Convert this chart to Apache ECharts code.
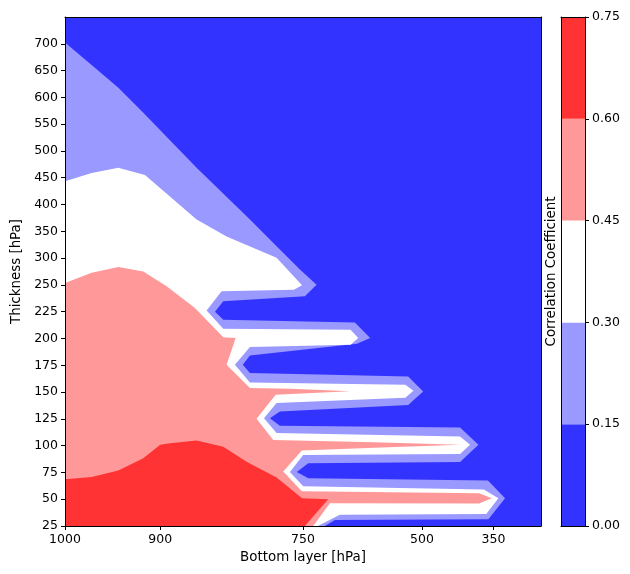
<!DOCTYPE html>
<html>
<head>
<meta charset="utf-8">
<script src="https://cdn.jsdelivr.net/npm/echarts@6/dist/echarts.min.js"></script>
<style>html,body{margin:0;padding:0;background:#fff}#c{width:630px;height:574px}</style>
</head>
<body>
<div id="c"></div>
<script>
// Bottom-layer pressure levels (x index 0..20) and tick indices
const bottomLevels = [1000,975,950,925,900,875,850,825,800,775,750,700,650,600,550,500,450,400,350,300,250];
const xTickIdx = [0,4,10,15,18];
// Thickness levels (y index 0..19) and tick indices
const thicknessLevels = [25,50,75,100,125,150,175,200,225,250,300,350,400,450,500,550,600,650,700,750];
const yTickIdx = [0,1,2,3,4,5,6,7,8,9,10,11,12,13,14,15,16,17,18];
// Colour-bar levels
const cbLevels = [0, 0.15, 0.30, 0.45, 0.60, 0.75];
const cbColors = ['#3333ff','#9999ff','#ffffff','#ff9999','#ff3333'];

// Filled-contour regions (value >= level), vertices in [bottom-level index, thickness index]
const region015 = [[0,18.05],[1.33,17.05],[2.24,16.36],[3.29,15.43],[5.53,13.37],[7.77,11.44],[8.89,10.44],[9.87,9.57],[10.57,9.01],
  [10.08,8.58],[6.65,8.39],[6.30,8.0],[6.65,7.70],[12.18,7.60],[12.82,7.02],
  [12.27,6.80],[7.77,6.36],[7.47,6.02],[7.77,5.71],[14.42,5.58],[15.05,5.02],
  [14.42,4.52],[9.03,4.27],[8.61,4.02],[9.03,3.74],[16.6,3.68],[17.37,3.03],
  [16.6,2.39],[10.22,2.34],[9.74,2.02],[10.22,1.78],[17.77,1.70],[18.49,1.04],
  [17.79,0.25],[11.34,0.22],[10.92,0],[0,0]];
const region030 = [[0,12.87],[1.12,13.18],[2.24,13.37],[3.36,13.10],[5.53,11.44],[6.79,10.81],[8.89,10.01],[9.96,8.99],
  [9.62,8.82],[6.58,8.76],[5.95,8.04],[6.65,7.36],[12.0,7.33],[12.32,7.02],
  [12.0,6.77],[7.77,6.68],[7.14,6.02],[7.77,5.36],[14.3,5.27],[14.64,5.05],
  [14.3,4.79],[8.89,4.59],[8.36,4.02],[8.89,3.47],[16.6,3.34],[17.02,3.03],
  [16.6,2.69],[10.01,2.65],[9.45,2.02],[10.01,1.48],[17.6,1.36],[18.21,1.04],
  [17.7,0.45],[11.55,0.42],[10.63,0],[0,0]];
const region045 = [[0,9.07],[1.12,9.45],[2.24,9.67],[3.29,9.50],[4.27,8.95],[5.46,8.14],[6.65,7.05],[7.17,7.02],[6.79,6.02],[7.77,5.15],
  [9.5,5.12],[11.97,5.03],[9.5,4.93],[8.85,4.90],[8.05,4.0],[8.75,3.21],[13,3.13],[16.6,3.03],[13,2.92],[9.95,2.82],
  [9.17,2.03],[9.95,1.30],[17.4,1.22],[17.93,1.04],[17.4,0.84],[11.13,0.85],[10.43,0],[0,0]];
const region060 = [[0,1.746],[1.12,1.83],[2.24,2.07],[3.29,2.53],[4.0,3.03],[4.41,3.09],[5.53,3.19],[6.65,2.96],[7.63,2.40],
  [8.89,1.81],[9.96,1.04],[11.06,1.0],[10.08,0],[0,0]];

const regions = [region015, region030, region045, region060];
const regionColors = [cbColors[1], cbColors[2], cbColors[3], cbColors[4]];

const FONT = 'DejaVu Sans';
const FS = 12.5;
const NFS = 13.4;
const lineStyle = {color:'#000', width:1};

const chart = echarts.init(document.getElementById('c'), null, {renderer:'canvas'});
const cbSeries = cbColors.map((c,i)=>({
  type:'bar', xAxisIndex:2, yAxisIndex:2, stack:'cb', barWidth:'100%',
  data:[cbLevels[i+1]-cbLevels[i]], itemStyle:{color:c}, silent:true
}));

chart.setOption({
  animation:false,
  textStyle:{fontFamily:FONT},
  grid:[
    {left:65, top:17, width:476, height:509, show:true, backgroundColor:cbColors[0], borderWidth:0},
    {left:561, top:17, width:24, height:509, show:false}
  ],
  xAxis:[
    {gridIndex:0, type:'value', min:0, max:20, position:'bottom', z:10,
     axisLine:{show:true, onZero:false, lineStyle},
     axisTick:{show:true, length:4, customValues:xTickIdx, lineStyle},
     axisLabel:{show:true, customValues:xTickIdx, margin:7, color:'#000', fontSize:FS, fontFamily:FONT, formatter:v=>String(bottomLevels[v])},
     splitLine:{show:false},
     name:'Bottom layer [hPa]', nameLocation:'middle', nameGap:25,
     nameTextStyle:{color:'#000', fontSize:NFS, fontFamily:FONT}},
    {gridIndex:0, type:'value', min:0, max:20, position:'top', z:10,
     axisLine:{show:true, onZero:false, lineStyle}, axisTick:{show:false}, axisLabel:{show:false}, splitLine:{show:false}},
    {gridIndex:1, type:'category', data:['cb'], position:'bottom', z:10,
     axisLine:{show:true, onZero:false, lineStyle:{color:'#000', width:1}}, axisTick:{show:false}, axisLabel:{show:false}},
    {gridIndex:1, type:'category', data:['cb'], position:'top', z:10,
     axisLine:{show:true, onZero:false, lineStyle:{color:'#000', width:1}}, axisTick:{show:false}, axisLabel:{show:false}}
  ],
  yAxis:[
    {gridIndex:0, type:'value', min:0, max:19, position:'left', z:10,
     axisLine:{show:true, onZero:false, lineStyle},
     axisTick:{show:true, length:4, customValues:yTickIdx, lineStyle},
     axisLabel:{show:true, customValues:yTickIdx, margin:7, color:'#000', fontSize:FS, fontFamily:FONT, formatter:v=>String(thicknessLevels[v])},
     splitLine:{show:false},
     name:'Thickness [hPa]', nameLocation:'middle', nameGap:39, nameRotate:90,
     nameTextStyle:{color:'#000', fontSize:NFS, fontFamily:FONT}},
    {gridIndex:0, type:'value', min:0, max:19, position:'right', z:10,
     axisLine:{show:true, onZero:false, lineStyle}, axisTick:{show:false}, axisLabel:{show:false}, splitLine:{show:false}},
    {gridIndex:1, type:'value', min:0, max:0.75, interval:0.15, position:'right', z:10,
     axisLine:{show:true, onZero:false, lineStyle},
     axisTick:{show:true, length:4, lineStyle},
     axisLabel:{show:true, margin:7, color:'#000', fontSize:FS, fontFamily:FONT, formatter:v=>v.toFixed(2)},
     splitLine:{show:false}},
    {gridIndex:1, type:'value', min:0, max:0.75, position:'left', z:10,
     axisLine:{show:true, onZero:false, lineStyle}, axisTick:{show:false}, axisLabel:{show:false}, splitLine:{show:false},
     name:'Correlation Coefficient', nameLocation:'middle', nameGap:3, nameRotate:90,
     nameTextStyle:{color:'#000', fontSize:NFS, fontFamily:FONT}}
  ],
  series:[
    {type:'custom', xAxisIndex:0, yAxisIndex:0, silent:true, clip:true,
     data:regions.map((r,i)=>i),
     renderItem:function(params, api){
       const poly = regions[params.dataIndex];
       return {type:'polygon', shape:{points:poly.map(p=>api.coord(p))},
               style:{fill:regionColors[params.dataIndex], stroke:null}};
     }}
  ].concat(cbSeries)
});
</script>
</body>
</html>
